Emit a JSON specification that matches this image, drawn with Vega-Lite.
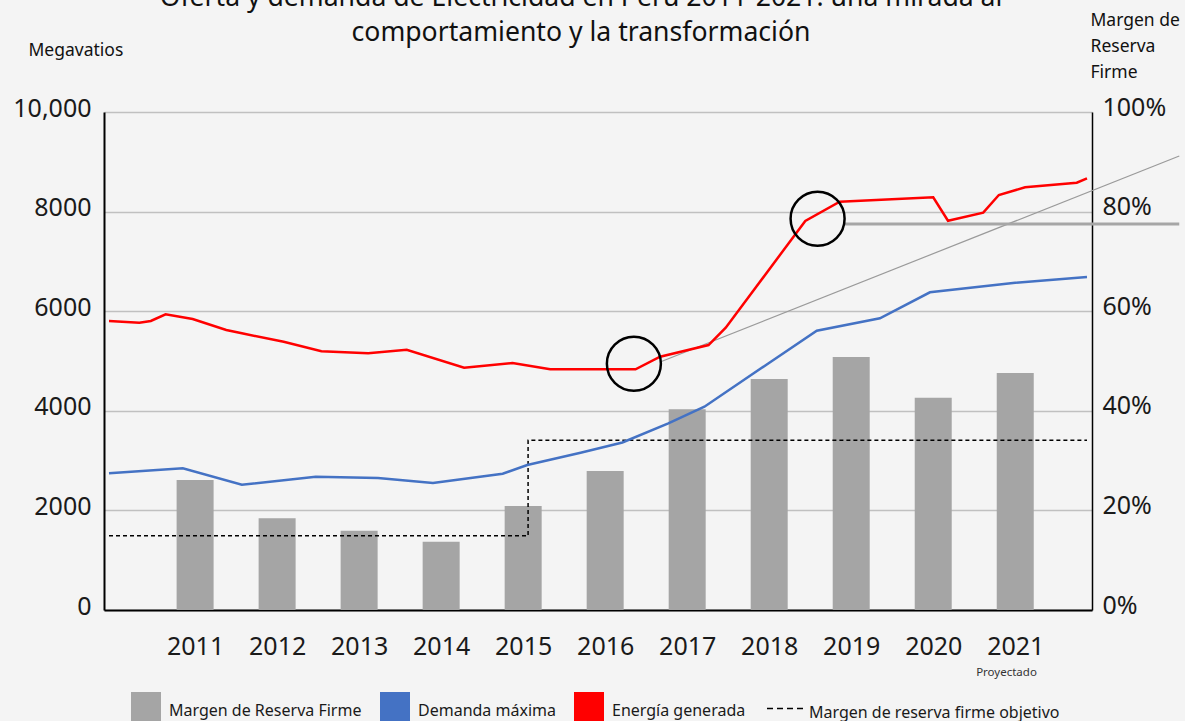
{
  "$schema": "https://vega.github.io/schema/vega-lite/v6.json",
  "autosize": {"type": "none"},
  "width": 988,
  "height": 498,
  "padding": {"left": 104, "top": 112, "right": 93, "bottom": 111},
  "background": "#f4f4f4",
  "title": {
    "text": ["Oferta y demanda de Electricidad en Perú 2011-2021: una mirada al", "comportamiento y la transformación"],
    "font": "Noto Sans", "fontSize": 26.6, "fontWeight": "normal", "lineHeight": 35,
    "color": "#111111", "anchor": "middle", "offset": 0, "dx": -17, "dy": 36
  },
  "datasets": {
    "margen": [
      {"anio": 2011, "pct": 26.1, "serie": "Margen de Reserva Firme"},
      {"anio": 2012, "pct": 18.4, "serie": "Margen de Reserva Firme"},
      {"anio": 2013, "pct": 15.9, "serie": "Margen de Reserva Firme"},
      {"anio": 2014, "pct": 13.7, "serie": "Margen de Reserva Firme"},
      {"anio": 2015, "pct": 20.9, "serie": "Margen de Reserva Firme"},
      {"anio": 2016, "pct": 27.9, "serie": "Margen de Reserva Firme"},
      {"anio": 2017, "pct": 40.3, "serie": "Margen de Reserva Firme"},
      {"anio": 2018, "pct": 46.4, "serie": "Margen de Reserva Firme"},
      {"anio": 2019, "pct": 50.8, "serie": "Margen de Reserva Firme"},
      {"anio": 2020, "pct": 42.6, "serie": "Margen de Reserva Firme"},
      {"anio": 2021, "pct": 47.6, "serie": "Margen de Reserva Firme"}
    ],
    "objetivo": [
      {"anio": 2009.95, "pct": 14.9, "serie": "Margen de reserva firme objetivo"},
      {"anio": 2015.06, "pct": 34.1, "serie": "Margen de reserva firme objetivo"},
      {"anio": 2021.875, "pct": 34.1, "serie": "Margen de reserva firme objetivo"}
    ],
    "lineas": [
      {"anio": 2009.95, "mw": 2745, "serie": "Demanda máxima"},
      {"anio": 2010.85, "mw": 2845, "serie": "Demanda máxima"},
      {"anio": 2011.57, "mw": 2516, "serie": "Demanda máxima"},
      {"anio": 2012.47, "mw": 2677, "serie": "Demanda máxima"},
      {"anio": 2013.23, "mw": 2651, "serie": "Demanda máxima"},
      {"anio": 2013.90, "mw": 2550, "serie": "Demanda máxima"},
      {"anio": 2014.75, "mw": 2737, "serie": "Demanda máxima"},
      {"anio": 2015.05, "mw": 2912, "serie": "Demanda máxima"},
      {"anio": 2015.70, "mw": 3159, "serie": "Demanda máxima"},
      {"anio": 2016.21, "mw": 3363, "serie": "Demanda máxima"},
      {"anio": 2016.77, "mw": 3749, "serie": "Demanda máxima"},
      {"anio": 2017.21, "mw": 4082, "serie": "Demanda máxima"},
      {"anio": 2018.02, "mw": 4986, "serie": "Demanda máxima"},
      {"anio": 2018.58, "mw": 5608, "serie": "Demanda máxima"},
      {"anio": 2019.35, "mw": 5857, "serie": "Demanda máxima"},
      {"anio": 2019.96, "mw": 6379, "serie": "Demanda máxima"},
      {"anio": 2021.00, "mw": 6572, "serie": "Demanda máxima"},
      {"anio": 2021.875, "mw": 6687, "serie": "Demanda máxima"},
      {"anio": 2009.95, "mw": 5803, "serie": "Energía generada"},
      {"anio": 2010.32, "mw": 5769, "serie": "Energía generada"},
      {"anio": 2010.46, "mw": 5803, "serie": "Energía generada"},
      {"anio": 2010.64, "mw": 5938, "serie": "Energía generada"},
      {"anio": 2010.97, "mw": 5843, "serie": "Energía generada"},
      {"anio": 2011.38, "mw": 5622, "serie": "Energía generada"},
      {"anio": 2011.57, "mw": 5556, "serie": "Energía generada"},
      {"anio": 2012.08, "mw": 5387, "serie": "Energía generada"},
      {"anio": 2012.54, "mw": 5195, "serie": "Energía generada"},
      {"anio": 2013.11, "mw": 5155, "serie": "Energía generada"},
      {"anio": 2013.58, "mw": 5227, "serie": "Energía generada"},
      {"anio": 2014.28, "mw": 4865, "serie": "Energía generada"},
      {"anio": 2014.87, "mw": 4960, "serie": "Energía generada"},
      {"anio": 2015.33, "mw": 4833, "serie": "Energía generada"},
      {"anio": 2016.37, "mw": 4833, "serie": "Energía generada"},
      {"anio": 2016.67, "mw": 5086, "serie": "Energía generada"},
      {"anio": 2017.26, "mw": 5321, "serie": "Energía generada"},
      {"anio": 2017.47, "mw": 5669, "serie": "Energía generada"},
      {"anio": 2018.44, "mw": 7811, "serie": "Energía generada"},
      {"anio": 2018.86, "mw": 8199, "serie": "Energía generada"},
      {"anio": 2020.00, "mw": 8287, "serie": "Energía generada"},
      {"anio": 2020.18, "mw": 7817, "serie": "Energía generada"},
      {"anio": 2020.61, "mw": 7978, "serie": "Energía generada"},
      {"anio": 2020.80, "mw": 8333, "serie": "Energía generada"},
      {"anio": 2021.12, "mw": 8488, "serie": "Energía generada"},
      {"anio": 2021.75, "mw": 8580, "serie": "Energía generada"},
      {"anio": 2021.875, "mw": 8669, "serie": "Energía generada"}
    ],
    "tendencia": [
      {"anio": 2016.67, "mw": 4980},
      {"anio": 2023.0, "mw": 9116}
    ],
    "nivel": [
      {"anio": 2018.91, "mw": 7751},
      {"anio": 2023.0, "mw": 7751}
    ],
    "circulos": [
      {"anio": 2016.35, "mw": 4946},
      {"anio": 2018.59, "mw": 7857}
    ]
  },
  "encoding": {
    "x": {
      "field": "anio", "type": "quantitative",
      "scale": {"domain": [2009.95, 2021.875], "nice": false, "zero": false},
      "axis": {
        "values": [2011, 2012, 2013, 2014, 2015, 2016, 2017, 2018, 2019, 2020, 2021],
        "format": "d", "labelFont": "Noto Sans", "labelFontSize": 25, "labelColor": "#1a1a1a",
        "ticks": false, "domainColor": "#000000", "domainWidth": 2, "labelPadding": 24,
        "grid": false, "labelFlush": false, "labelOverlap": false,
        "title": "Proyectado", "titleFont": "Noto Sans", "titleFontSize": 11.5, "titleFontWeight": "normal",
        "titleColor": "#333333", "titleX": 902, "titleY": 62, "titleAlign": "center", "titleBaseline": "middle"
      }
    }
  },
  "layer": [
    {
      "data": {"name": "margen"},
      "mark": {"type": "bar", "size": 37},
      "encoding": {
        "y": {
          "field": "pct", "type": "quantitative",
          "scale": {"domain": [0, 100], "nice": false},
          "axis": {
            "orient": "right", "values": [0, 20, 40, 60, 80, 100], "labelExpr": "datum.value + '%'",
            "labelFont": "Noto Sans", "labelFontSize": 25, "labelColor": "#1a1a1a",
            "ticks": false, "domainColor": "#000000", "domainWidth": 1.5, "labelPadding": 10, "labelOffset": -5,
            "grid": false, "labelFlush": false,
            "title": ["Margen de", "Reserva", "Firme"], "titleAngle": 0, "titleAlign": "left", "titleBaseline": "top",
            "titleX": -2, "titleY": -101, "titleLineHeight": 26, "titleFont": "Noto Sans", "titleFontSize": 17.5,
            "titleFontWeight": "normal", "titleColor": "#111111"
          }
        },
        "color": {
          "field": "serie", "type": "nominal",
          "scale": {
            "domain": ["Margen de Reserva Firme", "Demanda máxima", "Energía generada", "Margen de reserva firme objetivo"],
            "range": ["#a5a5a5", "#4472c4", "#ff0000", "#000000"]
          },
          "legend": {
            "title": null, "orient": "none", "direction": "horizontal", "legendX": 34, "legendY": 587,
            "symbolSize": 1444, "symbolType": "square", "labelFont": "Noto Sans", "labelFontSize": 16,
            "labelColor": "#1a1a1a", "labelOffset": 15, "columnPadding": 18, "padding": 0, "labelLimit": 400,
            "encode": {
              "labels": {"update": {"dy": {"value": 4}}},
              "symbols": {
                "update": {
                  "shape": {"signal": "datum.value === 'Margen de reserva firme objetivo' ? 'stroke' : 'square'"},
                  "size": {"signal": "datum.value === 'Margen de reserva firme objetivo' ? 1444 : 900"},
                  "fill": {"signal": "datum.value === 'Margen de reserva firme objetivo' ? 'transparent' : scale('color', datum.value)"},
                  "stroke": {"signal": "datum.value === 'Margen de reserva firme objetivo' ? '#000000' : 'transparent'"},
                  "strokeWidth": {"signal": "datum.value === 'Margen de reserva firme objetivo' ? 1.5 : 0"},
                  "strokeDash": {"signal": "datum.value === 'Margen de reserva firme objetivo' ? [6, 4] : [1, 0]"},
                  "opacity": {"value": 1}
                }
              }
            }
          }
        }
      }
    },
    {
      "data": {"name": "objetivo"},
      "mark": {"type": "line", "strokeDash": [4, 3], "strokeWidth": 1.5, "interpolate": "step-after"},
      "encoding": {
        "y": {"field": "pct", "type": "quantitative", "scale": {"domain": [0, 100], "nice": false}, "axis": null},
        "color": {"field": "serie", "type": "nominal"}
      }
    },
    {
      "data": {"name": "tendencia"},
      "mark": {"type": "line", "color": "#9a9a9a", "strokeWidth": 1.2, "clip": false},
      "encoding": {
        "y": {"field": "mw", "type": "quantitative", "scale": {"domain": [0, 10000], "nice": false}, "axis": null}
      }
    },
    {
      "data": {"name": "nivel"},
      "mark": {"type": "line", "color": "#a6a6a6", "strokeWidth": 3, "clip": false},
      "encoding": {
        "y": {"field": "mw", "type": "quantitative", "scale": {"domain": [0, 10000], "nice": false}, "axis": null}
      }
    },
    {
      "data": {"name": "lineas"},
      "mark": {"type": "line", "strokeWidth": 2.5},
      "encoding": {
        "y": {
          "field": "mw", "type": "quantitative",
          "scale": {"domain": [0, 10000], "nice": false},
          "axis": {
            "orient": "left", "values": [0, 2000, 4000, 6000, 8000, 10000],
            "labelExpr": "datum.value === 10000 ? '10,000' : datum.value + ''",
            "labelFont": "Noto Sans", "labelFontSize": 25, "labelColor": "#1a1a1a",
            "ticks": false, "domainColor": "#000000", "domainWidth": 2, "labelPadding": 13, "labelOffset": -4,
            "grid": true, "gridColor": "#c0c0c0", "gridWidth": 1.5, "labelFlush": false,
            "title": "Megavatios", "titleAngle": 0, "titleAlign": "left", "titleBaseline": "middle",
            "titleX": -76, "titleY": -62, "titleFont": "Noto Sans", "titleFontSize": 17.5, "titleFontWeight": "normal",
            "titleColor": "#111111"
          }
        },
        "color": {"field": "serie", "type": "nominal"}
      }
    },
    {
      "data": {"name": "circulos"},
      "mark": {"type": "point", "shape": "circle", "filled": false, "stroke": "#000000", "strokeWidth": 2.5, "size": 2916, "opacity": 1, "clip": false},
      "encoding": {
        "y": {"field": "mw", "type": "quantitative", "scale": {"domain": [0, 10000], "nice": false}, "axis": null}
      }
    }
  ],
  "resolve": {"scale": {"y": "independent"}},
  "config": {
    "view": {"stroke": null},
    "font": "Noto Sans"
  }
}
